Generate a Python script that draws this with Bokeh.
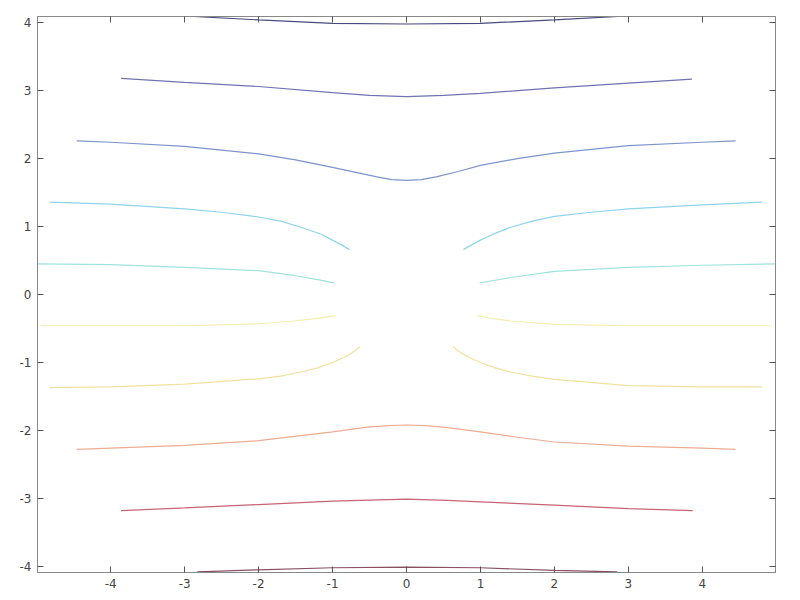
from bokeh.plotting import figure
from bokeh.models import FixedTicker, LinearAxis, Range1d
from bokeh.embed import file_html
from bokeh.resources import INLINE

# ---- data (contour lines) ----
l1_x = [-2.88, -2.0, -1.0, 0.0, 1.0, 2.0, 2.86]
l1_y = [4.09, 4.04, 3.99, 3.98, 3.99, 4.04, 4.09]

l2_x = [-3.86, -3.0, -2.0, -1.0, -0.5, 0.0, 0.5, 1.0, 2.0, 3.0, 3.86]
l2_y = [3.18, 3.12, 3.06, 2.97, 2.93, 2.91, 2.93, 2.96, 3.04, 3.11, 3.17]

l3_x = [-4.46, -4.0, -3.0, -2.0, -1.5, -1.0, -0.7, -0.4, -0.2, 0.0, 0.2, 0.4, 0.7, 1.0, 1.5, 2.0, 3.0, 4.0, 4.45]
l3_y = [2.26, 2.24, 2.18, 2.07, 1.98, 1.87, 1.80, 1.73, 1.69, 1.68, 1.69, 1.73, 1.81, 1.90, 2.00, 2.08, 2.19, 2.24, 2.26]

l4a_x = [-4.82, -4.0, -3.0, -2.5, -2.0, -1.7, -1.43, -1.16, -1.0, -0.88, -0.77]
l4a_y = [1.36, 1.33, 1.26, 1.21, 1.14, 1.08, 0.99, 0.89, 0.80, 0.73, 0.66]
l4b_x = [0.77, 0.88, 1.0, 1.2, 1.41, 1.7, 2.0, 2.5, 3.0, 4.0, 4.81]
l4b_y = [0.66, 0.73, 0.80, 0.90, 0.99, 1.08, 1.15, 1.21, 1.26, 1.32, 1.36]

l5a_x = [-4.99, -4.0, -3.0, -2.0, -1.52, -1.2, -0.98]
l5a_y = [0.45, 0.44, 0.40, 0.35, 0.28, 0.22, 0.17]
l5b_x = [0.99, 1.2, 1.41, 2.0, 3.0, 4.0, 4.99]
l5b_y = [0.17, 0.21, 0.25, 0.34, 0.40, 0.43, 0.45]

l6a_x = [-4.95, -4.0, -3.0, -2.0, -1.52, -1.2, -0.96]
l6a_y = [-0.46, -0.46, -0.46, -0.43, -0.39, -0.35, -0.31]
l6b_x = [0.96, 1.2, 1.41, 2.0, 3.0, 4.0, 4.94]
l6b_y = [-0.31, -0.36, -0.39, -0.44, -0.46, -0.46, -0.46]

l7a_x = [-4.83, -4.0, -3.0, -2.0, -1.7, -1.43, -1.2, -1.0, -0.8, -0.7, -0.63]
l7a_y = [-1.37, -1.36, -1.32, -1.24, -1.20, -1.14, -1.08, -1.0, -0.90, -0.83, -0.77]
l7b_x = [0.63, 0.7, 0.8, 1.0, 1.2, 1.41, 1.7, 2.0, 3.0, 4.0, 4.81]
l7b_y = [-0.77, -0.83, -0.90, -1.0, -1.08, -1.14, -1.20, -1.25, -1.34, -1.36, -1.36]

l8_x = [-4.46, -4.0, -3.0, -2.0, -1.0, -0.53, -0.25, 0.0, 0.25, 0.5, 1.0, 1.5, 2.0, 3.0, 4.0, 4.45]
l8_y = [-2.28, -2.26, -2.22, -2.15, -2.02, -1.95, -1.93, -1.92, -1.93, -1.95, -2.02, -2.10, -2.17, -2.23, -2.26, -2.28]

l9_x = [-3.86, -3.0, -2.0, -1.0, 0.0, 0.55, 1.0, 2.0, 3.0, 3.87]
l9_y = [-3.18, -3.14, -3.09, -3.04, -3.01, -3.03, -3.05, -3.10, -3.15, -3.18]

l10_x = [-2.83, -2.0, -1.0, 0.0, 1.0, 2.0, 2.85]
l10_y = [-4.08, -4.05, -4.02, -4.01, -4.02, -4.06, -4.08]

x_ticks = [-4, -3, -2, -1, 0, 1, 2, 3, 4]
y_ticks = [-4, -3, -2, -1, 0, 1, 2, 3, 4]
tick_labels = ["-4", "-3", "-2", "-1", "0", "1", "2", "3", "4"]

# ---- styles ----
segments = [
    (l1_x, l1_y, "#4a4a7e"),
    (l2_x, l2_y, "#7272b2"),
    (l3_x, l3_y, "#7b95cc"),
    (l4a_x, l4a_y, "#8fd4ee"),
    (l4b_x, l4b_y, "#8fd4ee"),
    (l5a_x, l5a_y, "#9ee4dc"),
    (l5b_x, l5b_y, "#9ee4dc"),
    (l6a_x, l6a_y, "#f2eeb0"),
    (l6b_x, l6b_y, "#f2eeb0"),
    (l7a_x, l7a_y, "#f4e09e"),
    (l7b_x, l7b_y, "#f4e09e"),
    (l8_x, l8_y, "#eeac92"),
    (l9_x, l9_y, "#c86276"),
    (l10_x, l10_y, "#8a5060"),
]

p = figure(
    frame_width=738, frame_height=556,
    x_range=Range1d(-4.99, 4.99), y_range=Range1d(-4.09, 4.09),
    output_backend="svg", toolbar_location=None,
    min_border_left=37, min_border_top=16, min_border_right=10, min_border_bottom=24,
)
p.xgrid.visible = False
p.ygrid.visible = False
p.outline_line_color = "#888888"
p.outline_line_width = 1
p.background_fill_color = "white"

for xs, ys, c in segments:
    p.line(xs, ys, line_color=c, line_width=1.2)

overrides = {t: s for t, s in zip(x_ticks, tick_labels)}

def style_axis(ax, ticks, labels=True):
    ax.ticker = FixedTicker(ticks=ticks)
    ax.minor_tick_line_color = None
    ax.major_tick_in = 6
    ax.major_tick_out = 0
    ax.axis_line_color = "#888888"
    ax.major_tick_line_color = "#555555"
    ax.major_label_text_font = "DejaVu Sans"
    ax.major_label_text_font_size = "12px"
    ax.major_label_text_color = "#444444"
    ax.major_label_standoff = 6
    if labels:
        ax.major_label_overrides = dict(overrides)
    else:
        ax.major_label_overrides = {t: "" for t in ticks}

style_axis(p.xaxis[0], x_ticks)
style_axis(p.yaxis[0], y_ticks)

top_ax = LinearAxis()
right_ax = LinearAxis()
style_axis(top_ax, x_ticks, labels=False)
style_axis(right_ax, y_ticks, labels=False)
top_ax.major_label_standoff = 0
right_ax.major_label_standoff = 0
p.add_layout(top_ax, "above")
p.add_layout(right_ax, "right")

open("out.html", "w").write(file_html(p, INLINE))
